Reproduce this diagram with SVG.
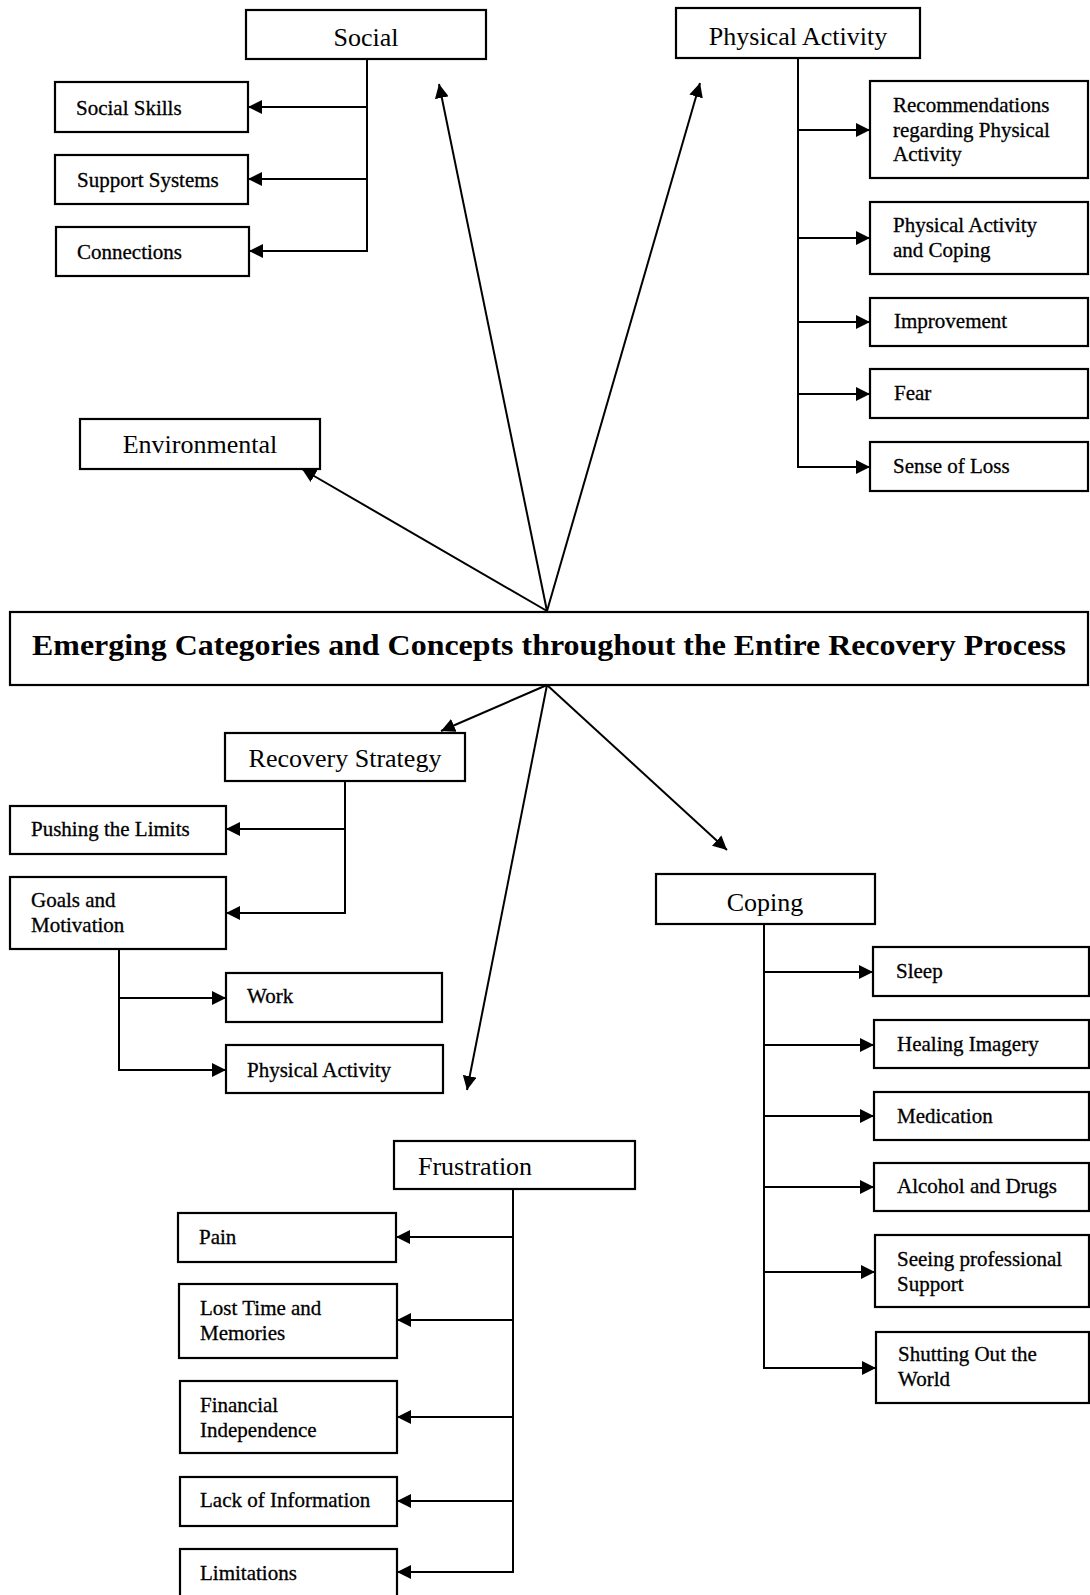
<svg xmlns="http://www.w3.org/2000/svg" width="1090" height="1595" viewBox="0 0 1090 1595">
<style>
.box{fill:#fff;stroke:#000;stroke-width:2.2}
.main{font-family:"Liberation Serif","Times New Roman",serif;font-size:26px;fill:#000}
.sub{font-family:"Liberation Serif","Times New Roman",serif;font-size:21px;fill:#000;stroke:#000;stroke-width:0.3}
.title{font-family:"Liberation Serif","Times New Roman",serif;font-size:30px;font-weight:bold;fill:#000}
.c{text-anchor:middle}
.ln{fill:none;stroke:#000;stroke-width:2}
.ar{fill:none;stroke:#000;stroke-width:2;marker-end:url(#ah)}
</style>
<defs>
<marker id="ah" markerUnits="userSpaceOnUse" markerWidth="15" markerHeight="14" refX="14" refY="7" orient="auto">
<path d="M0,0 L14,7 L0,14 z" fill="#000"/>
</marker>
</defs>
<rect width="1090" height="1595" fill="#fff"/>

<g id="connectors">
<!-- hub arrows -->
<line class="ar" x1="547" y1="611" x2="439" y2="84"/>
<line class="ar" x1="547" y1="611" x2="700" y2="83"/>
<line class="ar" x1="547" y1="611" x2="302" y2="469"/>
<line class="ar" x1="547" y1="685" x2="441" y2="731"/>
<line class="ar" x1="547" y1="685" x2="467" y2="1090"/>
<line class="ar" x1="547" y1="685" x2="727" y2="850"/>
<!-- Social tree -->
<line class="ln" x1="367" y1="59" x2="367" y2="251"/>
<line class="ar" x1="367" y1="107" x2="248" y2="107"/>
<line class="ar" x1="367" y1="179" x2="248" y2="179"/>
<line class="ar" x1="368" y1="251" x2="249" y2="251"/>
<!-- Physical Activity tree -->
<line class="ln" x1="798" y1="58" x2="798" y2="467"/>
<line class="ar" x1="798" y1="130" x2="870" y2="130"/>
<line class="ar" x1="798" y1="238" x2="870" y2="238"/>
<line class="ar" x1="798" y1="322" x2="870" y2="322"/>
<line class="ar" x1="798" y1="394" x2="870" y2="394"/>
<line class="ar" x1="797" y1="467" x2="870" y2="467"/>
<!-- Recovery Strategy tree -->
<line class="ln" x1="345" y1="781" x2="345" y2="913"/>
<line class="ar" x1="345" y1="829" x2="226" y2="829"/>
<line class="ar" x1="346" y1="913" x2="226" y2="913"/>
<!-- Goals tree -->
<line class="ln" x1="119" y1="949" x2="119" y2="1070"/>
<line class="ar" x1="119" y1="998" x2="226" y2="998"/>
<line class="ar" x1="118" y1="1070" x2="226" y2="1070"/>
<!-- Coping tree -->
<line class="ln" x1="764" y1="925" x2="764" y2="1368"/>
<line class="ar" x1="764" y1="972" x2="873" y2="972"/>
<line class="ar" x1="764" y1="1045" x2="874" y2="1045"/>
<line class="ar" x1="764" y1="1116" x2="874" y2="1116"/>
<line class="ar" x1="764" y1="1187" x2="874" y2="1187"/>
<line class="ar" x1="764" y1="1272" x2="875" y2="1272"/>
<line class="ar" x1="763" y1="1368" x2="876" y2="1368"/>
<!-- Frustration tree -->
<line class="ln" x1="513" y1="1189" x2="513" y2="1572"/>
<line class="ar" x1="513" y1="1237" x2="396" y2="1237"/>
<line class="ar" x1="513" y1="1320" x2="397" y2="1320"/>
<line class="ar" x1="513" y1="1417" x2="397" y2="1417"/>
<line class="ar" x1="513" y1="1501" x2="397" y2="1501"/>
<line class="ar" x1="514" y1="1572" x2="397" y2="1572"/>
</g>

<g id="central"><rect class="box" x="10" y="612" width="1078" height="73"/><text class="title c" x="549" y="655" textLength="1034" lengthAdjust="spacingAndGlyphs">Emerging Categories and Concepts throughout the Entire Recovery Process</text></g>

<g id="social"><rect class="box" x="246" y="10" width="240" height="49"/><text class="main c" x="366" y="46">Social</text></g>
<g id="social-skills"><rect class="box" x="55" y="82" width="193" height="50"/><text class="sub" x="76" y="115">Social Skills</text></g>
<g id="support-systems"><rect class="box" x="55" y="155" width="193" height="49"/><text class="sub" x="77" y="187">Support Systems</text></g>
<g id="connections"><rect class="box" x="56" y="227" width="193" height="49"/><text class="sub" x="77" y="259">Connections</text></g>

<g id="environmental"><rect class="box" x="80" y="419" width="240" height="50"/><text class="main c" x="200" y="453">Environmental</text></g>

<g id="physical-activity"><rect class="box" x="676" y="8" width="244" height="50"/><text class="main c" x="798" y="45">Physical Activity</text></g>
<g id="recommendations"><rect class="box" x="870" y="81" width="218" height="97"/><text class="sub" x="893" y="112">Recommendations</text><text class="sub" x="893" y="137">regarding Physical</text><text class="sub" x="893" y="161">Activity</text></g>
<g id="pa-coping"><rect class="box" x="870" y="202" width="218" height="72"/><text class="sub" x="893" y="232">Physical Activity</text><text class="sub" x="893" y="257">and Coping</text></g>
<g id="improvement"><rect class="box" x="870" y="298" width="218" height="48"/><text class="sub" x="894" y="328">Improvement</text></g>
<g id="fear"><rect class="box" x="870" y="369" width="218" height="49"/><text class="sub" x="894" y="400">Fear</text></g>
<g id="sense-of-loss"><rect class="box" x="870" y="442" width="218" height="49"/><text class="sub" x="893" y="473">Sense of Loss</text></g>

<g id="recovery-strategy"><rect class="box" x="225" y="733" width="240" height="48"/><text class="main c" x="345" y="767">Recovery Strategy</text></g>
<g id="pushing-limits"><rect class="box" x="10" y="806" width="216" height="48"/><text class="sub" x="31" y="836">Pushing the Limits</text></g>
<g id="goals-motivation"><rect class="box" x="10" y="877" width="216" height="72"/><text class="sub" x="31" y="907">Goals and</text><text class="sub" x="31" y="932">Motivation</text></g>
<g id="work"><rect class="box" x="226" y="973" width="216" height="49"/><text class="sub" x="247" y="1003">Work</text></g>
<g id="physical-activity-sub"><rect class="box" x="226" y="1045" width="217" height="48"/><text class="sub" x="247" y="1077">Physical Activity</text></g>

<g id="coping"><rect class="box" x="656" y="874" width="219" height="50"/><text class="main c" x="765" y="911">Coping</text></g>
<g id="sleep"><rect class="box" x="873" y="947" width="216" height="49"/><text class="sub" x="896" y="978">Sleep</text></g>
<g id="healing-imagery"><rect class="box" x="874" y="1020" width="215" height="48"/><text class="sub" x="897" y="1051">Healing Imagery</text></g>
<g id="medication"><rect class="box" x="874" y="1092" width="215" height="48"/><text class="sub" x="897" y="1123">Medication</text></g>
<g id="alcohol-drugs"><rect class="box" x="874" y="1163" width="215" height="48"/><text class="sub" x="897" y="1193">Alcohol and Drugs</text></g>
<g id="seeing-support"><rect class="box" x="875" y="1235" width="214" height="72"/><text class="sub" x="897" y="1266">Seeing professional</text><text class="sub" x="897" y="1291">Support</text></g>
<g id="shutting-out"><rect class="box" x="876" y="1332" width="213" height="71"/><text class="sub" x="898" y="1361">Shutting Out the</text><text class="sub" x="898" y="1386">World</text></g>

<g id="frustration"><rect class="box" x="394" y="1141" width="241" height="48"/><text class="main" x="418" y="1175">Frustration</text></g>
<g id="pain"><rect class="box" x="178" y="1213" width="218" height="49"/><text class="sub" x="199" y="1244">Pain</text></g>
<g id="lost-time"><rect class="box" x="179" y="1284" width="218" height="74"/><text class="sub" x="200" y="1315">Lost Time and</text><text class="sub" x="200" y="1340">Memories</text></g>
<g id="financial"><rect class="box" x="180" y="1381" width="217" height="72"/><text class="sub" x="200" y="1412">Financial</text><text class="sub" x="200" y="1437">Independence</text></g>
<g id="lack-info"><rect class="box" x="180" y="1477" width="217" height="49"/><text class="sub" x="200" y="1507">Lack of Information</text></g>
<g id="limitations"><rect class="box" x="180" y="1549" width="217" height="60"/><text class="sub" x="200" y="1580">Limitations</text></g>
</svg>
